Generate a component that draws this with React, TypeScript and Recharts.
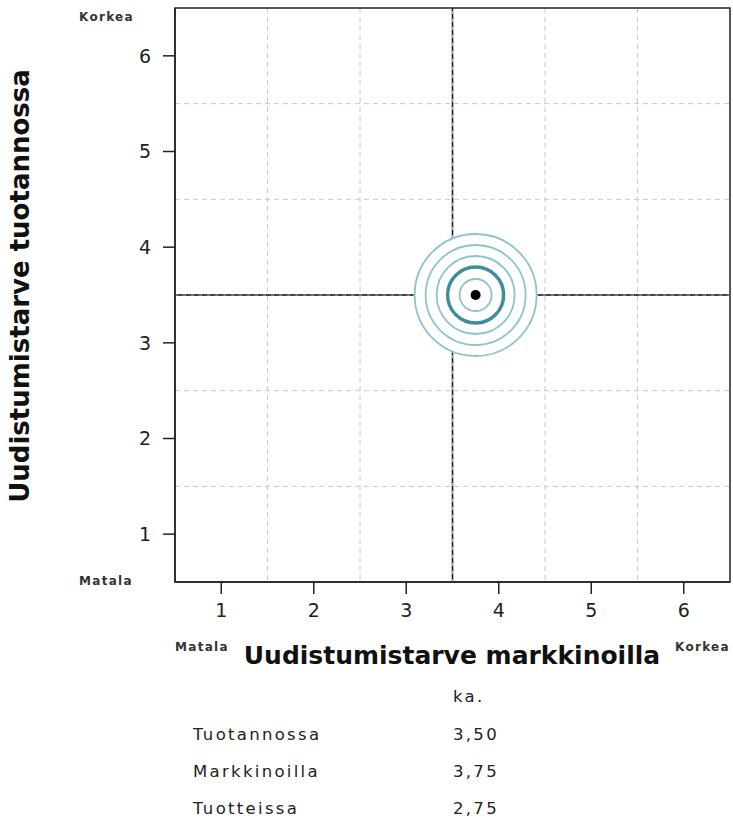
import React from "react";
import {
  ScatterChart,
  Scatter,
  XAxis,
  YAxis,
  CartesianGrid,
  ReferenceLine,
  ReferenceArea,
  Label,
} from "recharts";

const FONT = "'DejaVu Sans', Verdana, sans-serif";

// axis values
const TICKS = [1, 2, 3, 4, 5, 6];
const GRID_MIDS = [1.5, 2.5, 3.5, 4.5, 5.5];
const DOMAIN: [number, number] = [0.5, 6.5];
const MIDPOINT = 3.5;

// averages (ka.)
const ROW_LABELS = ["Tuotannossa", "Markkinoilla", "Tuotteissa"];
const ROW_VALUES = [3.5, 3.75, 2.75];

const point = [{ x: ROW_VALUES[1], y: ROW_VALUES[0] }];

const fmt = (v: number) => v.toFixed(2).replace(".", ",");

// ring radii (px) for the target marker
const RINGS = [61, 50, 39, 16];
const THICK_RING = 28;

const Target = (props: any) => {
  const { cx, cy } = props;
  return (
    <g>
      <circle cx={cx} cy={cy} r={RINGS[0] + 1} fill="#fff" />
      {RINGS.map((r) => (
        <circle key={r} cx={cx} cy={cy} r={r} fill="none" stroke="#8cc3cd" strokeWidth={1.8} />
      ))}
      <circle cx={cx} cy={cy} r={THICK_RING} fill="none" stroke="#3f8d9b" strokeWidth={3.4} />
      <circle cx={cx} cy={cy} r={5} fill="#000" />
    </g>
  );
};

const cornerStyle: React.CSSProperties = {
  position: "absolute",
  fontFamily: FONT,
  fontSize: 12,
  fontWeight: "bold",
  letterSpacing: 1.3,
  color: "#333",
};

const tableText: React.CSSProperties = {
  position: "absolute",
  fontFamily: FONT,
  fontSize: 16.5,
  letterSpacing: 2.3,
  color: "#222",
  lineHeight: "18px",
};

export default function App() {
  return (
    <div style={{ position: "absolute", left: 0, top: 0, width: 733, height: 821, background: "#fff" }}>
      <ScatterChart width={733} height={680} margin={{ top: 8, right: 3, left: 0, bottom: 0 }}>
        <CartesianGrid
          horizontalValues={GRID_MIDS}
          verticalValues={GRID_MIDS}
          stroke="#c8c8c8"
          strokeDasharray="5 4"
        />
        <XAxis
          type="number"
          dataKey="x"
          domain={DOMAIN}
          ticks={TICKS}
          height={98}
          tickSize={12}
          tickMargin={10}
          stroke="#222"
          strokeWidth={1.5}
          tick={{ fill: "#222", fontSize: 19, fontFamily: FONT }}
        >
          <Label
            content={() => (
              <text
                x={452}
                y={664}
                textAnchor="middle"
                fontFamily={FONT}
                fontSize={25}
                fontWeight="bold"
                fill="#111"
              >
                Uudistumistarve markkinoilla
              </text>
            )}
          />
        </XAxis>
        <YAxis
          type="number"
          dataKey="y"
          domain={DOMAIN}
          ticks={TICKS}
          width={175}
          tickSize={12}
          tickMargin={12}
          stroke="#222"
          strokeWidth={1.5}
          tick={{ fill: "#222", fontSize: 19, fontFamily: FONT }}
        >
          <Label
            content={() => (
              <text
                x={29}
                y={286}
                transform="rotate(-90 29 286)"
                textAnchor="middle"
                fontFamily={FONT}
                fontSize={26}
                fontWeight="bold"
                fill="#111"
              >
                Uudistumistarve tuotannossa
              </text>
            )}
          />
        </YAxis>
        <ReferenceArea
          x1={DOMAIN[0]}
          x2={DOMAIN[1]}
          y1={DOMAIN[0]}
          y2={DOMAIN[1]}
          fill="none"
          stroke="#222"
          strokeWidth={1.5}
          fillOpacity={0}
        />
        <ReferenceLine x={MIDPOINT} stroke="#111" strokeWidth={1.5} />
        <ReferenceLine y={MIDPOINT} stroke="#111" strokeWidth={1.5} />
        <Scatter data={point} shape={<Target />} isAnimationActive={false} />
        <ReferenceLine x={MIDPOINT} stroke="#aaa" strokeDasharray="3 5" strokeWidth={1} />
        <ReferenceLine y={MIDPOINT} stroke="#aaa" strokeDasharray="3 5" strokeWidth={1} />
      </ScatterChart>

      <div style={{ ...cornerStyle, left: 79, top: 10 }}>Korkea</div>
      <div style={{ ...cornerStyle, left: 79, top: 574 }}>Matala</div>
      <div style={{ ...cornerStyle, left: 175, top: 640 }}>Matala</div>
      <div style={{ ...cornerStyle, left: 675, top: 640 }}>Korkea</div>

      <div style={{ ...tableText, left: 453, top: 688 }}>ka.</div>
      {ROW_LABELS.map((label, i) => (
        <React.Fragment key={label}>
          <div style={{ ...tableText, left: 193, top: 726 + i * 37 }}>{label}</div>
          <div style={{ ...tableText, left: 453, top: 726 + i * 37 }}>{fmt(ROW_VALUES[i])}</div>
        </React.Fragment>
      ))}
    </div>
  );
}
